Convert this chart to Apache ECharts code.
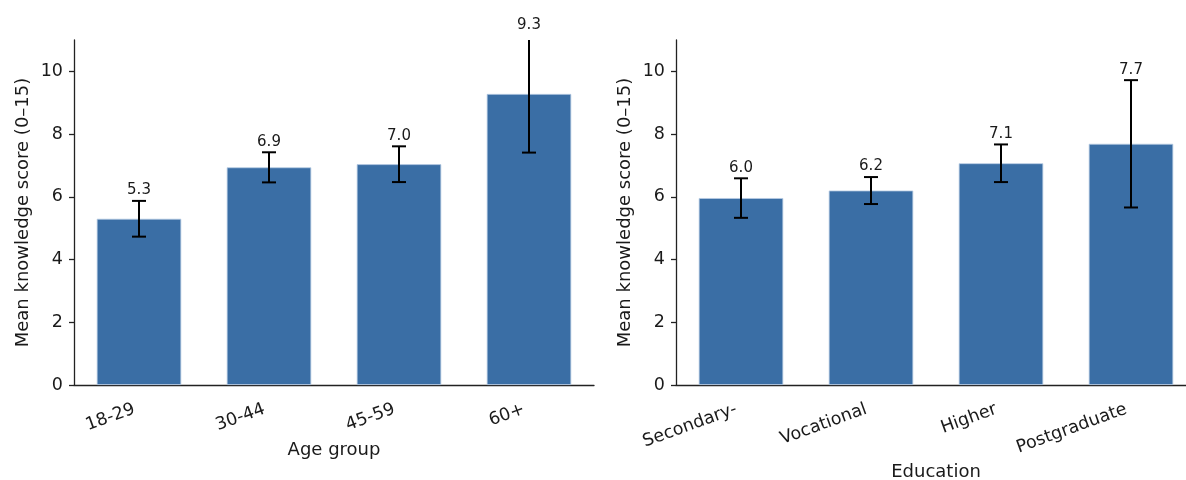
<!DOCTYPE html>
<html>
<head>
<meta charset="utf-8">
<script src="https://cdn.jsdelivr.net/npm/echarts@6/dist/echarts.min.js"></script>
<style>
html,body{margin:0;padding:0;background:#fff;}
#chart{width:1186px;height:480px;}
</style>
</head>
<body>
<div id="chart"></div>
<script>
const ageCategories = ['18-29', '30-44', '45-59', '60+'];
const ageMeans = [5.3, 6.94, 7.04, 9.28];
const ageErrors = [0.57, 0.48, 0.57, 1.87];

const eduCategories = ['Secondary-', 'Vocational', 'Higher', 'Postgraduate'];
const eduMeans = [5.96, 6.2, 7.07, 7.69];
const eduErrors = [0.63, 0.43, 0.6, 2.03];

const yTicks = [0, 2, 4, 6, 8, 10];
const yMax = 11;

const FONT = 'DejaVu Sans';
const BAR = '#3a6ea5';
const TXT = '#1a1a1a';

function errData(means, errs) {
  return means.map((m, i) => [i, m, m - errs[i], m + errs[i]]);
}

function renderErr(params, api) {
  const x = api.value(0);
  const mean = api.value(1);
  const lo = api.value(2);
  const hi = api.value(3);
  const pLo = api.coord([x, lo]);
  const pHi = api.coord([x, Math.min(hi, yMax)]);
  const pLabel = api.coord([x, hi]);
  const cap = 7;
  const st = { stroke: '#000', lineWidth: 2 };
  const children = [
    { type: 'line', shape: { x1: pLo[0], y1: pLo[1], x2: pHi[0], y2: pHi[1] }, style: st },
    { type: 'line', shape: { x1: pLo[0] - cap, y1: pLo[1], x2: pLo[0] + cap, y2: pLo[1] }, style: st }
  ];
  if (hi <= yMax) {
    children.push({ type: 'line', shape: { x1: pHi[0] - cap, y1: pHi[1], x2: pHi[0] + cap, y2: pHi[1] }, style: st });
  }
  children.push({
    type: 'text',
    style: {
      x: pLabel[0], y: pLabel[1] - 10.5,
      text: mean.toFixed(1),
      fill: TXT, font: '15px "' + FONT + '"',
      align: 'center', verticalAlign: 'middle'
    }
  });
  return { type: 'group', children: children };
}

function xAxisOpt(idx, cats, name, gap) {
  return {
    type: 'category', gridIndex: idx, data: cats,
    name: name, nameLocation: 'middle', nameGap: gap,
    nameTextStyle: { fontFamily: FONT, fontSize: 18, color: TXT },
    axisLine: { lineStyle: { color: '#222', width: 1.3 } },
    axisTick: { alignWithLabel: true, length: 5, lineStyle: { color: '#222', width: 1.3 } },
    axisLabel: { rotate: 20, margin: 22, padding: [0, 5, 0, 0], fontFamily: FONT, fontSize: 17.5, color: TXT, interval: 0 },
    splitLine: { show: false }
  };
}

function yAxisOpt(idx) {
  return {
    type: 'value', gridIndex: idx, min: 0, max: yMax,
    name: 'Mean knowledge score (0–15)', nameLocation: 'middle', nameGap: 42,
    nameTextStyle: { fontFamily: FONT, fontSize: 18, color: TXT },
    axisLine: { show: true, lineStyle: { color: '#222', width: 1.3 } },
    axisTick: { show: true, length: 5, customValues: yTicks, lineStyle: { color: '#222', width: 1.3 } },
    axisLabel: { customValues: yTicks, margin: 11, fontFamily: FONT, fontSize: 17.5, color: TXT },
    splitLine: { show: false }
  };
}

function barSeries(idx, means) {
  return {
    type: 'bar', xAxisIndex: idx, yAxisIndex: idx, data: means,
    barWidth: '65%',
    itemStyle: { color: BAR, borderColor: '#b7cbe3', borderWidth: 0.8 },
    silent: true, animation: false
  };
}

function errSeries(idx, means, errs) {
  return {
    type: 'custom', xAxisIndex: idx, yAxisIndex: idx,
    data: errData(means, errs), renderItem: renderErr,
    clip: false, silent: true, animation: false, z: 5
  };
}

const chart = echarts.init(document.getElementById('chart'), null, { renderer: 'canvas' });
chart.setOption({
  animation: false,
  backgroundColor: '#fff',
  grid: [
    { left: 74, top: 40, width: 520, height: 345, outerBoundsMode: 'none', containLabel: false },
    { left: 676, top: 40, width: 520, height: 345, outerBoundsMode: 'none', containLabel: false }
  ],
  xAxis: [xAxisOpt(0, ageCategories, 'Age group', 56), xAxisOpt(1, eduCategories, 'Education', 76)],
  yAxis: [yAxisOpt(0), yAxisOpt(1)],
  series: [
    barSeries(0, ageMeans), errSeries(0, ageMeans, ageErrors),
    barSeries(1, eduMeans), errSeries(1, eduMeans, eduErrors)
  ]
});
</script>
</body>
</html>
